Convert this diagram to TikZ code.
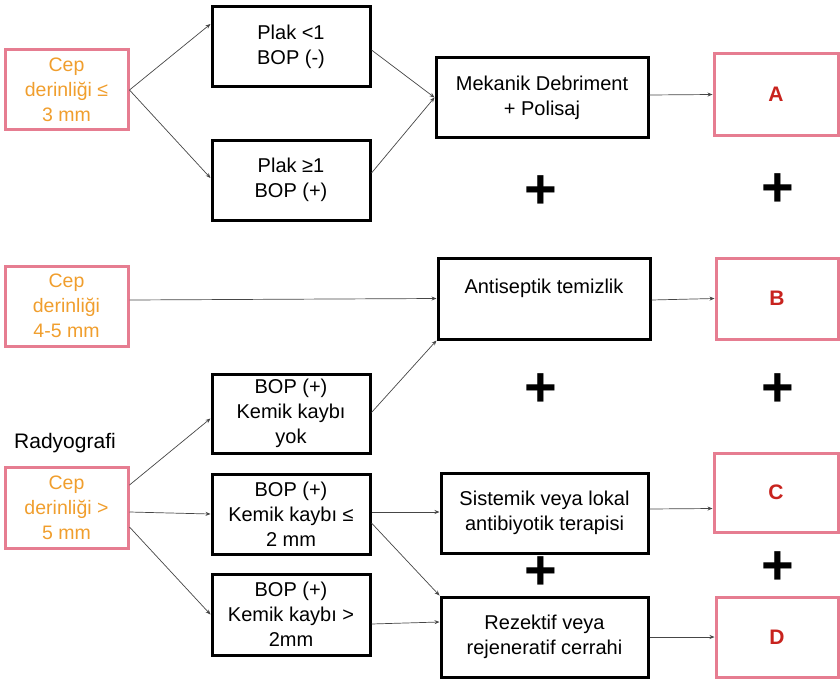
\documentclass[tikz,border=0pt]{standalone}
\usepackage{fontspec}
\setmainfont{Liberation Sans}
\usetikzlibrary{arrows.meta,calc}
\definecolor{pinkc}{RGB}{230,125,145}
\definecolor{orangec}{RGB}{240,158,45}
\definecolor{redc}{RGB}{200,35,30}
\definecolor{linec}{RGB}{70,70,70}
\begin{document}
\begin{tikzpicture}[x=1pt,y=-1pt,
  pinkbox/.style={draw=pinkc, line width=3pt, minimum width=123pt, minimum height=80pt, align=center, text=orangec, font=\fontsize{19.5}{25}\selectfont, inner sep=0pt},
  letterbox/.style={draw=pinkc, line width=3pt, minimum width=123pt, minimum height=80pt, text=redc, font=\fontsize{21}{25}\selectfont\bfseries, inner sep=0pt},
  blackbox/.style={draw=black, line width=3pt, minimum width=158pt, minimum height=80pt, align=center, font=\fontsize{20}{25}\selectfont, inner sep=0pt},
  treatbox/.style={blackbox, minimum width=210pt},
  plussign/.style={font=\fontsize{56}{56}\selectfont\bfseries, inner sep=0pt},
  arr/.style={draw=linec, line width=0.7pt, -{Stealth[length=5pt,width=4pt]}}
]
\useasboundingbox (0,0) rectangle (840,682);

% left pink boxes
\node[pinkbox] (L1) at (66.5,90) {Cep\\derinliği ≤\\3 mm};
\node[pinkbox] (L2) at (66.5,306) {Cep\\derinliği\\4-5 mm};
\node[pinkbox, minimum height=81pt] (L3) at (66.5,507.5) {Cep\\derinliği >\\5 mm};
\node[font=\fontsize{21}{25}\selectfont, inner sep=0pt] (rad) at (65,443) {Radyografi};

% middle condition boxes
\node[blackbox] (P1) at (291,47) {Plak <1\\BOP (-)};
\node[blackbox] (P2) at (291,180) {Plak ≥1\\BOP (+)};
\node[blackbox, minimum height=79pt] (K1) at (291,413.5) {BOP (+)\\Kemik kaybı\\yok};
\node[blackbox] (K2) at (291,514) {BOP (+)\\Kemik kaybı ≤\\2 mm};
\node[blackbox, minimum height=81pt] (K3) at (291,614.5) {BOP (+)\\Kemik kaybı >\\2mm};

% treatment boxes
\node[treatbox, minimum width=212pt, minimum height=79pt] (M) at (542,97.5) {Mekanik Debriment\\+ Polisaj};
\node[treatbox, minimum width=212pt, minimum height=81pt] (AT) at (544,298.5) {Antiseptik temizlik\\\mbox{}};
\node[treatbox, minimum width=207pt] (S) at (544.5,513) {Sistemik veya lokal\\antibiyotik terapisi};
\node[treatbox, minimum width=207pt] (R) at (544.5,637) {Rezektif veya\\rejeneratif cerrahi};

% result boxes
\node[letterbox, minimum width=124pt, minimum height=81pt] (A) at (776,94.5) {A};
\node[letterbox, minimum width=122pt, minimum height=81pt] (B) at (777,298.5) {B};
\node[letterbox, minimum width=124pt, minimum height=79pt] (C) at (776,492.5) {C};
\node[letterbox, minimum width=122pt] (D) at (777,637) {D};

% plus signs
\node[plussign] (p1) at (541,192) {+};
\node[plussign] (p2) at (778,190) {+};
\node[plussign] (p3) at (541,390) {+};
\node[plussign] (p4) at (778,390) {+};
\node[plussign] (p5) at (541,573) {+};
\node[plussign] (p6) at (778,568) {+};

% connectors
\draw[arr] (L1.east) -- ([yshift=23pt]P1.west);
\draw[arr] (L1.east) -- ([yshift=2pt]P2.west);
\draw[arr] ([yshift=-3pt]P1.east) -- (M.west);
\draw[arr] ([yshift=7pt]P2.east) -- (M.west);
\draw[arr] ([yshift=2.5pt]M.east) -- (A.west);
\draw[arr] ([yshift=6pt]L2.east) -- (AT.west);
\draw[arr] ([yshift=1pt]K1.east) -- (AT.south west);
\draw[arr] ([yshift=-1.5pt]AT.east) -- (B.west);
\draw[arr] ([yshift=22.5pt]L3.east) -- ([yshift=-5pt]K1.west);
\draw[arr] ([yshift=-4.5pt]L3.east) -- (K2.west);
\draw[arr] ([yshift=-19.5pt]L3.east) -- (K3.west);
\draw[arr] ([yshift=2pt]K2.east) -- ([yshift=1pt]S.west);
\draw[arr] ([yshift=-9pt]K2.east) -- (R.north west);
\draw[arr] ([yshift=-9.5pt]K3.east) -- ([yshift=15pt]R.west);
\draw[arr] ([yshift=4pt]S.east) -- ([yshift=-16pt]C.west);
\draw[arr] (R.east) -- (D.west);
\end{tikzpicture}
\end{document}
